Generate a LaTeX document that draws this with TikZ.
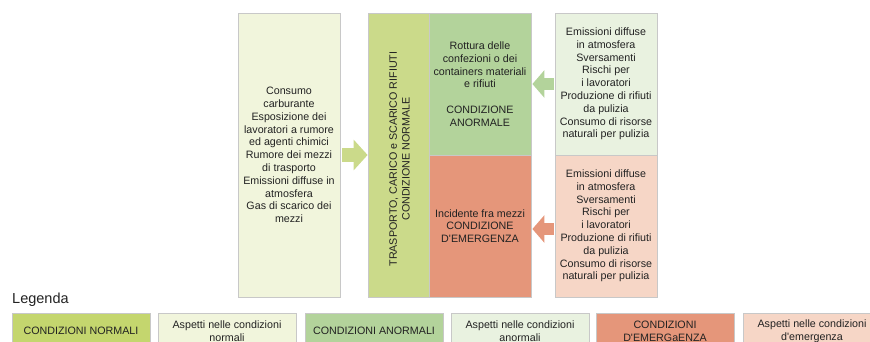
\documentclass[tikz,border=0pt]{standalone}
\usepackage{fontspec}
\setmainfont{Liberation Sans}
\usetikzlibrary{arrows.meta}

\definecolor{BoxGrey}{HTML}{C8C8C8}
\definecolor{TextGrey}{HTML}{222222}
\definecolor{NormCond}{HTML}{CBDA8A}
\definecolor{NormLeg}{HTML}{C4D66E}
\definecolor{NormAsp}{HTML}{F1F5DC}
\definecolor{AbnCond}{HTML}{B3D39B}
\definecolor{AbnAsp}{HTML}{E9F2E0}
\definecolor{EmerCond}{HTML}{E5967A}
\definecolor{EmerAsp}{HTML}{F6D6C6}

\begin{document}
\begin{tikzpicture}[x=1pt, y=-1pt,
        txt/.style={text=TextGrey, align=center, inner sep=0pt, font=\fontsize{10.7}{12.8}\selectfont},
        box/.style={txt, draw=BoxGrey, line width=0.8pt},
        legbox/.style={box, minimum width=138pt, minimum height=36pt}]
        \useasboundingbox (0, 0) rectangle (870, 342);

        % main boxes
        \node (aspnorm) at (289, 155)[box, fill=NormAsp, minimum width=102pt, minimum height=284pt] {Consumo\\carburante\\Esposizione dei\\lavoratori a rumore\\ed agenti chimici\\Rumore dei mezzi\\di trasporto\\Emissioni diffuse in\\atmosfera\\Gas di scarico dei\\mezzi};

        \node (trasp) at (398.5, 155)[box, fill=NormCond, minimum width=61pt, minimum height=284pt] {};
        \node (trasptext) at (399.5, 159)[txt, rotate=90] {TRASPORTO, CARICO e SCARICO RIFIUTI\\CONDIZIONE NORMALE};

        \node (abn) at (480, 84)[box, fill=AbnCond, minimum width=102pt, minimum height=142pt] {Rottura delle\\confezioni o dei\\containers materiali\\e rifiuti\\[12.8pt]CONDIZIONE\\ANORMALE};

        \node (emer) at (480, 226)[box, fill=EmerCond, minimum width=102pt, minimum height=142pt] {Incidente fra mezzi\\CONDIZIONE\\D\textquotesingle EMERGENZA};

        \node (aspabn) at (606, 84)[box, fill=AbnAsp, minimum width=102pt, minimum height=142pt] {Emissioni diffuse\\in atmosfera\\Sversamenti\\Rischi per\\i lavoratori\\Produzione di rifiuti\\da pulizia\\Consumo di risorse\\naturali per pulizia};

        \node (aspemer) at (606, 226)[box, fill=EmerAsp, minimum width=102pt, minimum height=142pt] {Emissioni diffuse\\in atmosfera\\Sversamenti\\Rischi per\\i lavoratori\\Produzione di rifiuti\\da pulizia\\Consumo di risorse\\naturali per pulizia};

        % block arrows
        \draw[NormCond, line width=14pt, -{Triangle[length=14pt, width=30pt]}] ([xshift=2pt]aspnorm.east) -- (trasp.west);
        \draw[AbnCond, line width=12pt, -{Triangle[length=12pt, width=27pt]}] ([xshift=-1pt]aspabn.west) -- ([xshift=1pt]abn.east);
        \draw[EmerCond, line width=12pt, -{Triangle[length=12pt, width=27pt]}] ([xshift=-1pt, yshift=-3pt]aspemer.west) -- ([xshift=1pt, yshift=-3pt]emer.east);

        % legend
        \node (legtitle) at (12, 303)[anchor=base west, text=TextGrey, inner sep=0pt, font=\fontsize{14.5}{16}\selectfont] {Legenda};

        \node (leg1) at (81, 331)[legbox, fill=NormLeg] {CONDIZIONI NORMALI};
        \node (leg2) at (227, 331)[legbox, fill=NormAsp] {Aspetti nelle condizioni\\normali};
        \node (leg3) at (374, 331)[legbox, fill=AbnCond] {CONDIZIONI ANORMALI};
        \node (leg4) at (520, 331)[legbox, fill=AbnAsp] {Aspetti nelle condizioni\\anormali};
        \node (leg5) at (665, 331)[legbox, fill=EmerCond] {CONDIZIONI\\D\textquotesingle EMERGaENZA};
        \node (leg6) at (812, 331)[legbox, fill=EmerAsp] {Aspetti nelle condizioni\\d\textquotesingle emergenza};
    \end{tikzpicture}
\end{document}
